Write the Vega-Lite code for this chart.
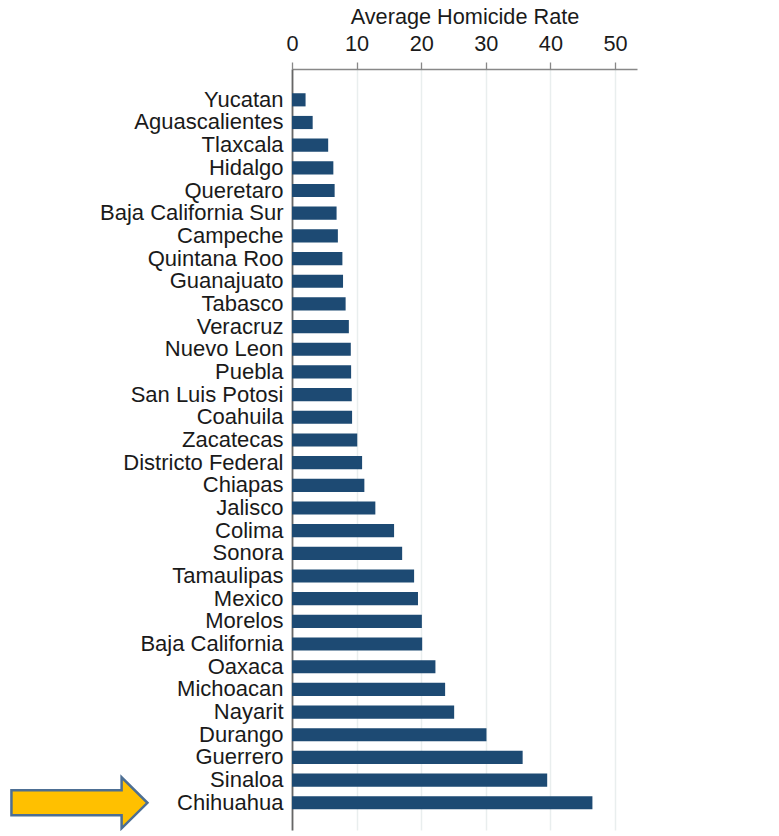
{
  "$schema": "https://vega.github.io/schema/vega-lite/v6.json",
  "autosize": "none",
  "width": 345,
  "height": 761,
  "padding": {"left": 292, "top": 69, "right": 142, "bottom": 6},
  "background": "white",
  "config": {
    "view": {"stroke": null},
    "font": "Liberation Sans"
  },
  "data": {
    "values": [
      {"state": "Yucatan", "rate": 2.1},
      {"state": "Aguascalientes", "rate": 3.2},
      {"state": "Tlaxcala", "rate": 5.6},
      {"state": "Hidalgo", "rate": 6.4},
      {"state": "Queretaro", "rate": 6.6},
      {"state": "Baja California Sur", "rate": 6.9},
      {"state": "Campeche", "rate": 7.1},
      {"state": "Quintana Roo", "rate": 7.8},
      {"state": "Guanajuato", "rate": 7.9},
      {"state": "Tabasco", "rate": 8.3},
      {"state": "Veracruz", "rate": 8.8},
      {"state": "Nuevo Leon", "rate": 9.1},
      {"state": "Puebla", "rate": 9.15},
      {"state": "San Luis Potosi", "rate": 9.25},
      {"state": "Coahuila", "rate": 9.3},
      {"state": "Zacatecas", "rate": 10.1},
      {"state": "Districto Federal", "rate": 10.85},
      {"state": "Chiapas", "rate": 11.2},
      {"state": "Jalisco", "rate": 12.9},
      {"state": "Colima", "rate": 15.8},
      {"state": "Sonora", "rate": 17.05},
      {"state": "Tamaulipas", "rate": 18.9},
      {"state": "Mexico", "rate": 19.5},
      {"state": "Morelos", "rate": 20.1},
      {"state": "Baja California", "rate": 20.15},
      {"state": "Oaxaca", "rate": 22.2},
      {"state": "Michoacan", "rate": 23.7},
      {"state": "Nayarit", "rate": 25.1},
      {"state": "Durango", "rate": 30.1},
      {"state": "Guerrero", "rate": 35.7},
      {"state": "Sinaloa", "rate": 39.5},
      {"state": "Chihuahua", "rate": 46.5}
    ]
  },
  "layer": [
    {
      "mark": {"type": "bar", "color": "#1d4a73"},
      "encoding": {
        "y": {
          "field": "state",
          "type": "nominal",
          "sort": null,
          "scale": {"paddingInner": 0.42, "paddingOuter": 0.99, "align": 0.54},
          "axis": {
            "title": null,
            "ticks": false,
            "labelFontSize": 22,
            "labelColor": "#1a1a1a",
            "labelPadding": 9,
            "labelLimit": 300,
            "domainColor": "#666666",
            "domainWidth": 1.8
          }
        },
        "x": {
          "field": "rate",
          "type": "quantitative",
          "scale": {"domain": [0, 53.4], "nice": false, "zero": true},
          "axis": {
            "orient": "top",
            "title": "Average Homicide Rate",
            "titleFontSize": 21.7,
            "titleFontWeight": "normal",
            "titleColor": "#1a1a1a",
            "titlePadding": 5,
            "values": [0, 10, 20, 30, 40, 50],
            "labelFontSize": 21.7,
            "labelColor": "#1a1a1a",
            "labelPadding": 7,
            "labelFlush": false,
            "tickSize": 7,
            "tickColor": "#888888",
            "tickWidth": 1.3,
            "domainColor": "#888888",
            "domainWidth": 1.5,
            "grid": true,
            "gridColor": "#e9eeee",
            "gridWidth": 1.5
          }
        }
      }
    },
    {
      "transform": [{"filter": "datum.state === 'Chihuahua'"}],
      "mark": {
        "type": "point",
        "shape": "M-1,-0.185L0.62,-0.185L0.62,-0.375L1,0L0.62,0.375L0.62,0.185L-1,0.185Z",
        "filled": true,
        "fill": "#FFC000",
        "stroke": "#4d6f94",
        "strokeWidth": 2.5,
        "opacity": 1,
        "fillOpacity": 1,
        "size": 18496
      },
      "encoding": {
        "y": {"field": "state", "type": "nominal", "sort": null},
        "x": {"datum": -32.9, "type": "quantitative"}
      }
    }
  ]
}
